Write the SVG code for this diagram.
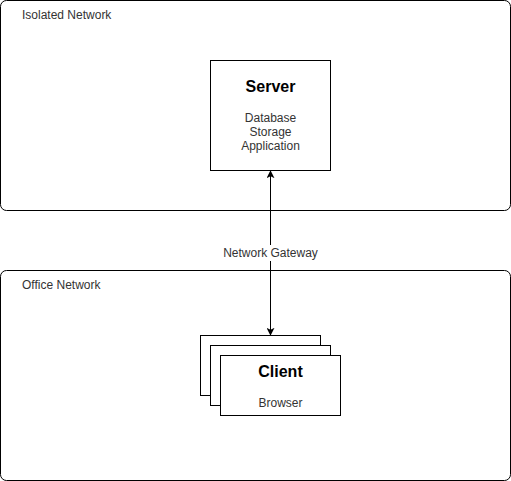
<svg xmlns="http://www.w3.org/2000/svg" width="511" height="481" viewBox="0 0 511 481">
<style>
.zone{fill:#fff;stroke:#000;stroke-width:1}
.box{fill:#fff;stroke:#000;stroke-width:1}
.t{font-family:"Liberation Sans",Arial,sans-serif;font-size:12px;fill:#333}
.b{font-family:"Liberation Sans",Arial,sans-serif;font-size:16px;font-weight:bold;fill:#000}
.c{text-anchor:middle}
.edge{fill:none;stroke:#000;stroke-width:1}
</style>
<defs>
<marker id="ah" viewBox="0 0 10 10" refX="9" refY="5" markerWidth="8" markerHeight="8" orient="auto-start-reverse" markerUnits="userSpaceOnUse">
<path d="M0,0 L10,5 L0,10 L2.5,5 Z" fill="#000"/>
</marker>
</defs>
<g id="isolated-network">
<rect class="zone" x="0.5" y="0.5" width="510" height="210" rx="6" ry="6"/>
<text class="t" x="22" y="19">Isolated Network</text>
</g>
<g id="office-network">
<rect class="zone" x="0.5" y="270.5" width="510" height="210" rx="6" ry="6"/>
<text class="t" x="22" y="289">Office Network</text>
</g>
<g id="server">
<rect class="box" x="210.5" y="60.5" width="120" height="110"/>
<text class="b c" x="270.5" y="92">Server</text>
<text class="t c" x="270.5" y="122">Database</text>
<text class="t c" x="270.5" y="136">Storage</text>
<text class="t c" x="270.5" y="150">Application</text>
</g>
<g id="client">
<rect class="box" x="200.5" y="335.5" width="120" height="60"/>
<rect class="box" x="210.5" y="345.5" width="120" height="60"/>
<rect class="box" x="220.5" y="355.5" width="120" height="60"/>
<text class="b c" x="280.5" y="377">Client</text>
<text class="t c" x="280.5" y="407">Browser</text>
</g>
<g id="connectors">
<line class="edge" x1="270.5" y1="171" x2="270.5" y2="335" marker-start="url(#ah)" marker-end="url(#ah)"/>
<rect x="219" y="245" width="103" height="16" fill="#fff"/>
<text class="t c" x="270.5" y="257">Network Gateway</text>
</g>
</svg>
